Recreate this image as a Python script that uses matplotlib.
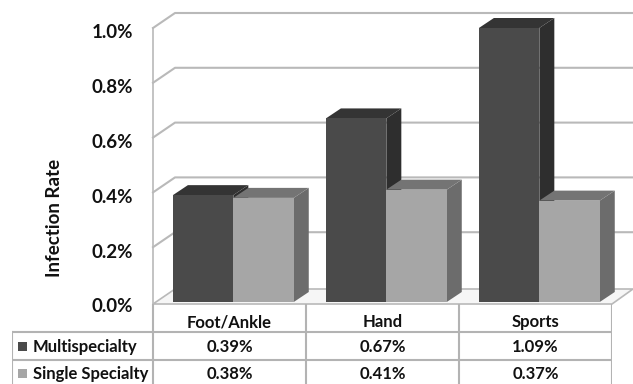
import matplotlib
matplotlib.use("Agg")
import matplotlib.pyplot as plt
import matplotlib.transforms as mtransforms
from matplotlib.patches import Polygon, Rectangle

plt.rcParams['font.family'] = ['Lato', 'DejaVu Sans']
plt.rcParams['font.weight'] = 'bold'

categories = ['Foot/Ankle', 'Hand', 'Sports']
series = ['Multispecialty', 'Single Specialty']
multi = [0.39, 0.67, 1.09]
single = [0.38, 0.41, 0.37]
yticks = [0.0, 0.2, 0.4, 0.6, 0.8, 1.0]

front_cols = ['#4a4a4a', '#a6a6a6']
top_cols = ['#343434', '#747474']
side_cols = ['#2e2e2e', '#6c6c6c']
grid_col = '#b9b9b9'

W, H = 633, 384
fig = plt.figure(figsize=(W / 100, H / 100), dpi=100)

# front plane of the 3d plot area, in pixels
left, right, base, top = 153, 612, 302, 28
ax = fig.add_axes([left / W, (H - base) / H, (right - left) / W, (base - top) / H])
ax.set_xlim(0, 3)
ax.set_ylim(0, 1.0)
ax.axis('off')

px_x = 3 / (right - left)
px_y = 1.0 / (base - top)
wall_dx, wall_dy = 22 * px_x, 15 * px_y
bar_dx, bar_dy = 15 * px_x, 10 * px_y

# floor
floor = Polygon([(0, -2 * px_y), (3, -2 * px_y), (3 + 21 * px_x, wall_dy - 2 * px_y),
                 (wall_dx, wall_dy - 2 * px_y)], closed=True,
                facecolor='#f6f6f6', edgecolor=grid_col, lw=1.2, clip_on=False, zorder=1)
ax.add_patch(floor)

# gridlines on side and back walls
x_end = 3 + 21 * px_x
for v in yticks[1:]:
    ax.plot([0, wall_dx, x_end], [v, v + wall_dy, v + wall_dy], color=grid_col,
            lw=1.5, clip_on=False, zorder=0.5)
ax.plot([0, 0], [-2 * px_y, 1.0], color=grid_col, lw=1.2, clip_on=False, zorder=0.5)

# tick labels
lab_tr = mtransforms.blended_transform_factory(ax.transAxes, ax.transData) + \
    mtransforms.ScaledTranslation(-20 / 100, -5 / 100, fig.dpi_scale_trans)
for v in yticks:
    ax.text(0, v, f'{v:.1f}%', transform=lab_tr, ha='right', va='center',
            fontsize=13.5, fontweight='bold', color='#111111')

fig.text(55 / W, 1 - 218 / H, 'Infection Rate', rotation=90, ha='center', va='center',
         fontsize=13.5, fontweight='bold', color='#111111')

# 3d bars
bar_w = 0.395
offsets = [0.13, 0.13 + bar_w]
for s, vals in enumerate([multi, single]):
    for i, v in enumerate(vals):
        x0 = i + offsets[s]
        h = min(v, ax.get_ylim()[1])
        side = Polygon([(x0 + bar_w, 0), (x0 + bar_w + bar_dx, bar_dy),
                        (x0 + bar_w + bar_dx, h + bar_dy), (x0 + bar_w, h)],
                       closed=True, facecolor=side_cols[s], edgecolor='none',
                       clip_on=False, zorder=2 + s)
        topf = Polygon([(x0, h), (x0 + bar_w, h), (x0 + bar_w + bar_dx, h + bar_dy),
                        (x0 + bar_dx, h + bar_dy)], closed=True,
                       facecolor=top_cols[s], edgecolor='none', clip_on=False, zorder=2 + s)
        ax.add_patch(side)
        ax.add_patch(topf)
    ax.bar([i + offsets[s] for i in range(3)], vals, width=bar_w, align='edge',
           color=front_cols[s], edgecolor='none', zorder=2.5 + s)

# data table under the plot
tab = fig.add_axes([12 / W, 0, (right - 12) / W, (H - 304) / H])
tab.set_xlim((12 - left) * px_x, 3)
tab.set_ylim(H - 304, 0)
tab.axis('off')
x_lo = (12 - left) * px_x
line_col = '#b3b3b3'
for y in [28, 56]:
    tab.plot([x_lo, 3], [y, y], color=line_col, lw=1.5)
for x in range(4):
    tab.plot([x, x], [0, 80], color=line_col, lw=1.5)
tab.plot([x_lo, x_lo], [28, 80], color=line_col, lw=1.5)

for i, c in enumerate(categories):
    tab.text(i + 0.5, 18, c, ha='center', va='center', fontsize=12, fontweight='bold',
             color='#111111')
for r, (name, vals) in enumerate(zip(series, [multi, single])):
    yc = 43 + 27 * r
    tab.add_patch(Rectangle(((18 - left) * px_x, yc - 5), 9 * px_x, 9,
                            facecolor=front_cols[r], edgecolor='none'))
    tab.text((33 - left) * px_x, yc, name, ha='left', va='center', fontsize=12,
             fontweight='bold', color='#111111')
    for i, v in enumerate(vals):
        tab.text(i + 0.5, yc, f'{v:.2f}%', ha='center', va='center', fontsize=12,
                 fontweight='bold', color='#111111')

fig.savefig('out.png', dpi=100)
